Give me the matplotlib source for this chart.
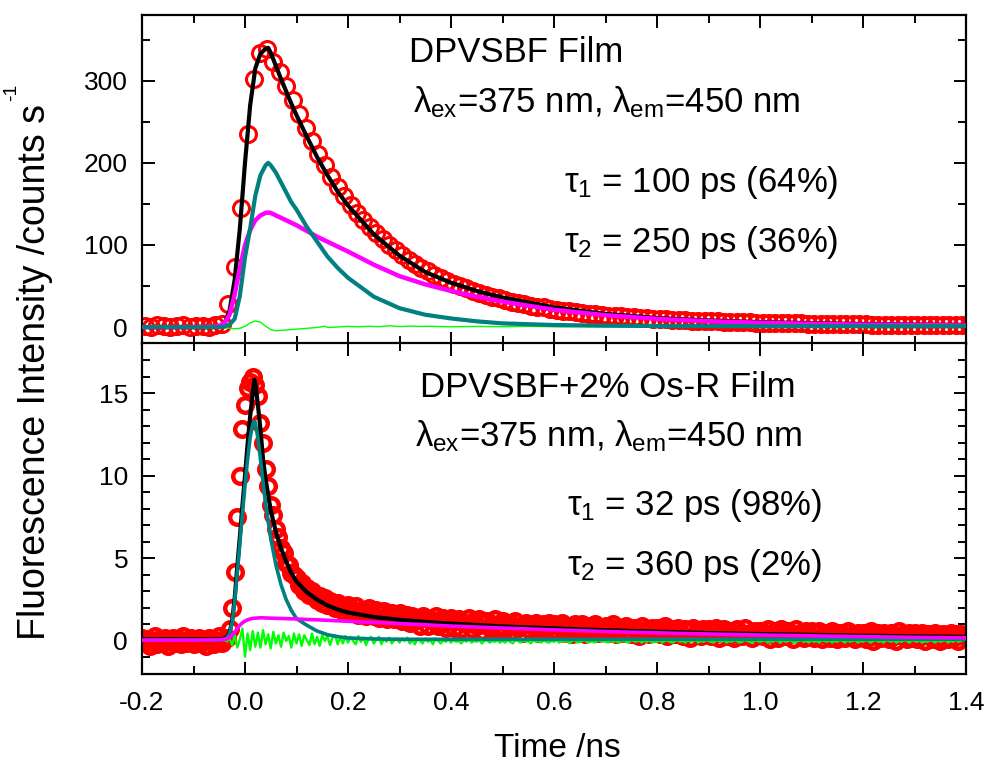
import numpy as np
import matplotlib
matplotlib.use("Agg")
import matplotlib.pyplot as plt
from matplotlib.ticker import MultipleLocator, FormatStrFormatter

plt.rcParams['font.family'] = ['Liberation Sans', 'DejaVu Sans']
plt.rcParams['mathtext.fontset'] = 'custom'
plt.rcParams['mathtext.rm'] = 'Liberation Sans'
plt.rcParams['mathtext.it'] = 'Liberation Sans'
plt.rcParams['mathtext.bf'] = 'Liberation Sans:bold'
plt.rcParams['mathtext.sf'] = 'Liberation Sans'

# ---------------- TOP PANEL: DPVSBF film ----------------
top_t0, top_dt = -0.195, 0.0125
top_data = [1, 0, 2, 1, 0, 1, 2, 0, 1, 1, 0, 2,
            4, 28, 73, 145, 235, 302, 334, 338, 323, 310, 293, 276, 259, 243, 227,
            211, 197, 183, 171, 159, 149, 139, 130, 122, 114, 107, 100, 94, 88, 82,
            77, 72, 68, 64, 60, 56, 53, 50, 47, 44, 41, 39, 37, 35, 33, 31, 29, 28,
            26, 25, 24, 22, 21, 20, 19, 18, 17, 16, 16, 15, 14, 13, 13, 12, 12, 11,
            11, 10, 10, 9.5, 9, 9, 8.5, 8, 8, 7.5, 7, 7, 6.5, 6.5, 6, 6, 6, 5.5, 5.5,
            5, 5, 5, 4.5, 4.5, 4.5, 4, 4, 4, 4, 4, 3.5, 3.5, 3.5, 3.5, 3.5, 3, 3, 3,
            3, 3, 3, 3, 2.5, 2.5, 2.5, 2.5, 2.5, 2.5, 2.5, 2.5, 2.5]

top_fit_t = [-0.2, -0.1, -0.06, -0.05, -0.04, -0.03, -0.02, -0.01, 0.0, 0.01, 0.02,
             0.03, 0.04, 0.045, 0.05, 0.06, 0.07, 0.08, 0.09, 0.1, 0.12, 0.14, 0.16,
             0.18, 0.2, 0.25, 0.3, 0.35, 0.4, 0.45, 0.5, 0.6, 0.7, 0.8, 0.9, 1.0,
             1.1, 1.2, 1.3, 1.4]
top_fit = [0, 0, 0, 1, 4, 20, 58, 120, 200, 270, 315, 333, 339, 340, 334, 318, 302,
           287, 272, 258, 232, 207, 185, 165, 148, 113, 87, 67, 54, 44, 36, 24, 16,
           11, 8, 6, 4.6, 3.6, 3.0, 2.5]
top_tau1 = [0, 0, 0, 0, 0.5, 3, 10, 38, 85, 120, 160, 185, 197, 200, 197, 188, 176,
            164, 152, 143, 122, 104, 86, 72, 60, 37, 23, 15, 10.5, 7, 4.5, 2.5, 1.7,
            1.3, 1.1, 1.0, 1.0, 1.0, 1.0, 1.0]
top_tau2 = [0, 0, 0.5, 1.5, 5, 15, 40, 72, 100, 118, 130, 136, 139, 139.5, 139, 136,
            133, 130, 127, 124, 117, 110, 104, 98, 92, 76, 62, 52, 44, 37, 31, 21,
            14.5, 10, 7.2, 5.3, 4, 3, 2.5, 2]

top_res_t = [-0.2, -0.05, -0.04, -0.03, -0.02, -0.01, 0.0, 0.01, 0.02, 0.03, 0.04,
             0.05, 0.06, 0.08, 0.1, 0.12, 0.14, 0.15, 0.155, 0.16, 0.17, 0.2, 0.22,
             0.24, 0.26, 0.28, 0.3, 0.32, 0.34, 0.36, 0.4, 0.45, 0.5, 0.55, 0.6, 0.7,
             0.8, 0.9, 1.0, 1.1, 1.2, 1.3, 1.4]
top_res = [0, 0, -0.5, -1.5, -2, -1.5, 1, 5, 7.5, 6, 1, -3, -4.5, -3.5, -2.5, -1.5,
           -0.5, 0.5, 1.2, -0.5, -0.3, 0.9, 0.3, 1.0, 0.5, 1.6, 0.6, 1.2, 0.8, 1.0,
           0.3, 0.8, 0.5, 0.9, 0.4, 0.6, 0.3, 0.5, 0.3, 0.4, 0.2, 0.3, 0.2]

# ---------------- BOTTOM PANEL: DPVSBF + 2% Os-R film ----------------
bot_t0, bot_dt = -0.2, 0.005
bot_data = [
    0.2, -0.1, 0.1, -0.3, 0.0, 0.3, -0.2, 0.1, -0.1, 0.2, -0.3, 0.0, 0.2, -0.1, 0.1, -0.2, 0.3, -0.1, 0.0, 0.2,
    -0.2, 0.1, 0.2, -0.1, 0.0, -0.3, 0.2, 0.1, -0.2, 0.0, 0.3, -0.1, 0.1, 0.2, 0.7, 2.0, 4.2, 7.5, 10.0, 12.8,
    14.3, 15.3, 15.7, 16.0, 15.5, 14.8, 13.2, 12.0, 10.4, 9.4, 8.2, 7.6, 6.8, 6.3, 5.6, 5.3, 4.7, 4.6, 4.1, 4.0,
    3.8, 3.4, 3.5, 3.0, 3.2, 2.8, 3.0, 2.8, 2.5, 2.7, 2.3, 2.6, 2.2, 2.4, 2.3, 2.0, 2.3, 2.1, 1.8, 2.1,
    2.2, 1.7, 1.9, 2.1, 1.6, 1.8, 1.9, 1.5, 2.0, 1.6, 1.5, 1.9, 1.4, 1.7, 1.8, 1.3, 1.6, 1.7, 1.3, 1.5,
    1.7, 1.2, 1.4, 1.6, 1.1, 1.5, 1.2, 1.3, 0.9, 1.5, 1.4, 0.9, 1.3, 1.2, 1.5, 0.9, 1.1, 1.4, 0.8, 1.2,
    1.4, 0.8, 1.2, 1.3, 0.7, 1.1, 1.0, 1.4, 0.7, 1.2, 0.9, 1.3, 0.6, 1.1, 1.2, 0.8, 1.0, 1.3, 0.7, 0.9,
    1.2, 0.7, 1.0, 1.1, 0.6, 1.2, 0.8, 0.9, 0.5, 1.1, 1.0, 0.6, 0.9, 1.1, 0.5, 0.8, 1.0, 0.7, 1.1, 0.6,
    1.0, 0.6, 0.9, 1.1, 0.5, 0.8, 0.9, 0.4, 1.0, 0.7, 0.8, 1.0, 0.4, 0.7, 0.9, 0.6, 1.0, 0.5, 0.8, 0.7,
    0.9, 0.5, 0.8, 1.0, 0.4, 0.7, 0.8, 0.5, 0.9, 0.6, 0.4, 0.8, 0.7, 0.3, 0.9, 0.6, 0.7, 0.4, 0.8, 0.6,
    0.8, 0.4, 0.7, 0.9, 0.3, 0.6, 0.7, 0.4, 0.8, 0.5, 0.3, 0.7, 0.6, 0.2, 0.8, 0.5, 0.6, 0.3, 0.7, 0.5,
    0.7, 0.3, 0.6, 0.8, 0.2, 0.5, 0.7, 0.3, 0.6, 0.4, 0.2, 0.7, 0.5, 0.3, 0.8, 0.4, 0.5, 0.2, 0.6, 0.4,
    0.6, 0.3, 0.5, 0.7, 0.1, 0.5, 0.6, 0.2, 0.7, 0.4, 0.3, 0.6, 0.4, 0.1, 0.7, 0.4, 0.5, 0.2, 0.6, 0.3,
    0.6, 0.2, 0.5, 0.6, 0.1, 0.4, 0.5, 0.2, 0.6, 0.3, 0.1, 0.5, 0.4, 0.2, 0.6, 0.3, 0.4, 0.1, 0.5, 0.3,
    0.5, 0.1, 0.4, 0.6, 0.0, 0.3, 0.5, 0.2, 0.5, 0.3, 0.1, 0.5, 0.3, 0.0, 0.6, 0.3, 0.4, 0.1, 0.5, 0.2,
    0.5, 0.1, 0.3, 0.5, 0.0, 0.4, 0.4, 0.1, 0.5, 0.2, 0.0, 0.4, 0.3, 0.1, 0.5, 0.2, 0.4, 0.0, 0.4, 0.3,
    0.3]

bot_res = [
    0.05, 0.05, 0.05, 0.05, 0.05, 0.05, 0.05, 0.05, 0.05, 0.05, 0.05, 0.05, 0.05, 0.05, 0.05, 0.05, 0.05, 0.05, 0.05, 0.05,
    0.05, 0.05, 0.05, 0.05, 0.05, 0.05, 0.05, 0.05, 0.05, 0.05, 0.05, 0.05, 0.05, 0.0, 0.15, -0.25, 0.35, -0.4, 0.1, 0.75,
    -0.95, 0.45, -0.55, 0.6, -0.35, 0.5, -0.4, 0.65, -0.2, 0.4, -0.45, 0.55, -0.15, 0.35, -0.35, 0.5, 0.0, 0.3, -0.4, 0.45,
    -0.15, 0.4, -0.3, 0.35, 0.05, -0.25, 0.45, -0.2, 0.25, -0.3, 0.35, 0.0, 0.3, -0.25, 0.2, 0.35, -0.2, 0.25, -0.15, 0.3,
    -0.1, 0.25, 0.0, -0.2, 0.3, -0.05, 0.2, -0.25, 0.15, 0.25, -0.15, 0.05, 0.25, -0.2, 0.15, -0.05, 0.2, -0.15, 0.05, 0.15,
    -0.1, 0.15, 0.0, 0.2, -0.15, 0.05, -0.2, 0.15, 0.0, -0.15, 0.15, -0.05, 0.05, -0.2, 0.15, 0.0, -0.15, 0.05, -0.05, 0.1,
    -0.1, 0.05, -0.05, 0.0, -0.15, 0.05, -0.05, 0.1, -0.1, 0.0, -0.05, 0.05, -0.15, 0.0, 0.05, -0.1, 0.0, -0.05, 0.05, -0.1,
    0.0, -0.1, 0.05, -0.05, -0.15, 0.05, 0.0, -0.1, 0.05, -0.05, 0.0, -0.15, 0.05, -0.05, 0.0, -0.1, 0.05, -0.05, -0.1, 0.0,
    -0.05, 0.05, -0.1, 0.0, -0.05, 0.05, -0.15, 0.0, 0.05, -0.1, -0.05, 0.0, 0.05, -0.1, 0.0, -0.05, -0.1, 0.05, 0.0, -0.05,
    0.0, -0.1, 0.05, -0.05, 0.0, -0.1, 0.05, 0.0, -0.05, -0.1, 0.05, 0.0, -0.05, 0.05, -0.1, 0.0, -0.05, 0.05, -0.1, 0.0,
    -0.05, 0.05, -0.1, 0.0, 0.05, -0.05, -0.1, 0.0, 0.05, -0.05, 0.0, -0.1, 0.05, -0.05, 0.0, 0.05, -0.1, 0.0, -0.05, 0.05,
    0.0, -0.05, -0.1, 0.05, 0.0, -0.05, 0.05, -0.1, 0.0, -0.05, 0.05, 0.0, -0.1, -0.05, 0.05, 0.0, -0.05, -0.1, 0.05, 0.0,
    -0.05, 0.0, 0.05, -0.1, 0.0, -0.05, 0.05, 0.0, -0.1, 0.05, -0.05, 0.0, 0.05, -0.1, -0.05, 0.0, 0.05, -0.05, 0.0, -0.1,
    0.05, -0.05, 0.0, -0.1, 0.05, 0.0, -0.05, 0.05, -0.1, 0.0, -0.05, 0.05, 0.0, -0.1, 0.05, -0.05, 0.0, 0.05, -0.1, 0.0,
    -0.05, 0.05, 0.0, -0.1, 0.0, 0.05, -0.05, 0.0, -0.1, 0.05, 0.0, -0.05, 0.05, -0.1, 0.0, -0.05, 0.05, 0.0, -0.1, 0.05,
    0.0, -0.05, 0.05, -0.1, 0.0, -0.05, 0.05, 0.0, -0.1, 0.05, -0.05, 0.0, 0.05, -0.1, 0.0, -0.05, 0.05, -0.05, 0.0, 0.05,
    0.0]

bot_fit_t = [-0.2, -0.1, -0.05, -0.04, -0.035, -0.03, -0.025, -0.02, -0.015, -0.01,
             -0.005, 0.0, 0.005, 0.01, 0.015, 0.018, 0.02, 0.025, 0.03, 0.035, 0.04,
             0.05, 0.06, 0.07, 0.08, 0.09, 0.1, 0.12, 0.14, 0.16, 0.18, 0.2, 0.25,
             0.3, 0.35, 0.4, 0.5, 0.6, 0.7, 0.8, 0.9, 1.0, 1.1, 1.2, 1.3, 1.4]
bot_fit = [0.1, 0.1, 0.1, 0.15, 0.25, 0.5, 1.2, 2.6, 4.5, 6.3, 8.2, 10.0, 11.9, 13.6,
           15.0, 15.8, 15.6, 14.3, 12.8, 11.0, 9.8, 7.9, 6.6, 5.6, 4.8, 4.1, 3.6,
           2.95, 2.5, 2.15, 1.9, 1.72, 1.45, 1.28, 1.15, 1.05, 0.88, 0.76, 0.65,
           0.56, 0.48, 0.42, 0.37, 0.32, 0.28, 0.25]
bot_tau1 = [0.05, 0.05, 0.05, 0.1, 0.2, 0.45, 1.1, 2.4, 4.1, 5.9, 7.7, 9.4, 11.0,
            12.3, 13.1, 13.3, 13.2, 12.3, 11.0, 9.6, 8.3, 6.2, 4.6, 3.4, 2.5, 1.85,
            1.35, 0.95, 0.6, 0.38, 0.26, 0.18, 0.12, 0.1, 0.1, 0.1, 0.1, 0.1, 0.1,
            0.1, 0.1, 0.1, 0.1, 0.1, 0.1, 0.1]
bot_tau2 = [0.05, 0.05, 0.07, 0.1, 0.14, 0.2, 0.35, 0.55, 0.75, 0.95, 1.1, 1.2, 1.28,
            1.33, 1.36, 1.37, 1.38, 1.39, 1.4, 1.4, 1.39, 1.38, 1.37, 1.36, 1.35,
            1.34, 1.33, 1.3, 1.28, 1.25, 1.22, 1.19, 1.12, 1.05, 0.98, 0.9, 0.78,
            0.67, 0.57, 0.49, 0.42, 0.36, 0.31, 0.26, 0.22, 0.19]

# ---------------- text ----------------
top_title = "DPVSBF Film"
bot_title = "DPVSBF+2% Os-R Film"
wave_text = r"$\lambda_{\rm ex}$=375 nm, $\lambda_{\rm em}$=450 nm"
top_tau_text = [r"$\tau_{\rm 1}$ = 100 ps (64%)", r"$\tau_{\rm 2}$ = 250 ps (36%)"]
bot_tau_text = [r"$\tau_{\rm 1}$ = 32 ps (98%)", r"$\tau_{\rm 2}$ = 360 ps (2%)"]
xlabel = "Time /ns"
ylabel_main = "Fluorescence Intensity /counts s"
ylabel_sup = "-1"

RED, BLACK, TEAL, MAG, GREEN = "#ff0000", "#000000", "#008080", "#ff00ff", "#00ff00"

fig = plt.figure(figsize=(9.89, 7.66), dpi=100)
W, H = 989.0, 766.0
xl, xr = 142.0, 966.0
ytop, ymid, ybot = 15.0, 343.5, 674.0
ax1 = fig.add_axes([xl / W, 1 - ymid / H, (xr - xl) / W, (ymid - ytop) / H])
ax2 = fig.add_axes([xl / W, 1 - ybot / H, (xr - xl) / W, (ybot - ymid) / H])

# top panel
tt = top_t0 + top_dt * np.arange(len(top_data))
ax1.plot(tt, top_data, linestyle='none', marker='o', ms=11.5, mfc='none',
         mec=RED, mew=2.2, zorder=1)
ax1.plot(top_res_t, top_res, color=GREEN, lw=1.0, zorder=2)
ax1.plot(top_fit_t, top_fit, color=BLACK, lw=3.0, zorder=3)
ax1.plot(top_fit_t, top_tau2, color=MAG, lw=3.2, zorder=4)
ax1.plot(top_fit_t, top_tau1, color=TEAL, lw=3.0, zorder=5)

# bottom panel
tb = bot_t0 + bot_dt * np.arange(len(bot_data))
tr = bot_t0 + bot_dt * np.arange(len(bot_res))
ax2.plot(tb, bot_data, linestyle='none', marker='o', ms=10.5, mfc='none',
         mec=RED, mew=3.2, zorder=1)
ax2.plot(tr, bot_res, color=GREEN, lw=1.7, zorder=2)
ax2.plot(bot_fit_t, bot_fit, color=BLACK, lw=3.0, zorder=3)
ax2.plot(bot_fit_t, bot_tau1, color=TEAL, lw=2.6, zorder=4)
ax2.plot(bot_fit_t, bot_tau2, color=MAG, lw=2.6, zorder=5)

ax1.set_xlim(-0.2, 1.4)
ax2.set_xlim(-0.2, 1.4)
ax1.set_ylim(-20, 380)
ax2.set_ylim(-2, 18)

for ax in (ax1, ax2):
    for s in ax.spines.values():
        s.set_linewidth(1.6)
    ax.xaxis.set_major_locator(MultipleLocator(0.2))
    ax.xaxis.set_minor_locator(MultipleLocator(0.1))
    ax.tick_params(which='both', direction='in', top=True, right=True,
                   width=1.4, labelsize=19, pad=10)
    ax.tick_params(which='major', length=9)
    ax.tick_params(which='minor', length=5.5)

ax1.yaxis.set_major_locator(MultipleLocator(100))
ax1.yaxis.set_minor_locator(MultipleLocator(50))
ax2.yaxis.set_major_locator(MultipleLocator(5))
ax2.yaxis.set_minor_locator(MultipleLocator(1))
ax1.tick_params(axis='x', labelbottom=False)
ax2.xaxis.set_major_formatter(FormatStrFormatter('%.1f'))
ax2.tick_params(axis='x', pad=12)

fs = 25
ax1.text(0.4545, 0.857, top_title, transform=ax1.transAxes, fontsize=fs,
         ha='center', va='baseline')
ax1.text(0.5637, 0.7047, wave_text, transform=ax1.transAxes, fontsize=fs,
         ha='center', va='baseline')
ax1.text(0.679, 0.461, top_tau_text[0], transform=ax1.transAxes, fontsize=fs,
         ha='center', va='baseline')
ax1.text(0.679, 0.2785, top_tau_text[1], transform=ax1.transAxes, fontsize=fs,
         ha='center', va='baseline')

ax2.text(0.5655, 0.838, bot_title, transform=ax2.transAxes, fontsize=fs,
         ha='center', va='baseline')
ax2.text(0.566, 0.6877, wave_text, transform=ax2.transAxes, fontsize=fs,
         ha='center', va='baseline')
ax2.text(0.670, 0.481, bot_tau_text[0], transform=ax2.transAxes, fontsize=fs,
         ha='center', va='baseline')
ax2.text(0.670, 0.2995, bot_tau_text[1], transform=ax2.transAxes, fontsize=fs,
         ha='center', va='baseline')

fig.text(557 / W, 1 - 757 / H, xlabel, fontsize=24, ha='center', va='baseline')

# y label: main part (reads bottom -> top) + small raised superscript
ylab = fig.text(45 / W, 1 - 640 / H, ylabel_main, fontsize=27, rotation=90,
                ha='left', va='baseline', rotation_mode='anchor')
fig.canvas.draw()
bb = ylab.get_window_extent(renderer=fig.canvas.get_renderer())
fig.text((bb.x0 + 3) / W, (bb.y1 + 3) / H, ylabel_sup, fontsize=14, rotation=90,
         ha='left', va='bottom', rotation_mode='anchor')

fig.savefig("out.png", dpi=100)
